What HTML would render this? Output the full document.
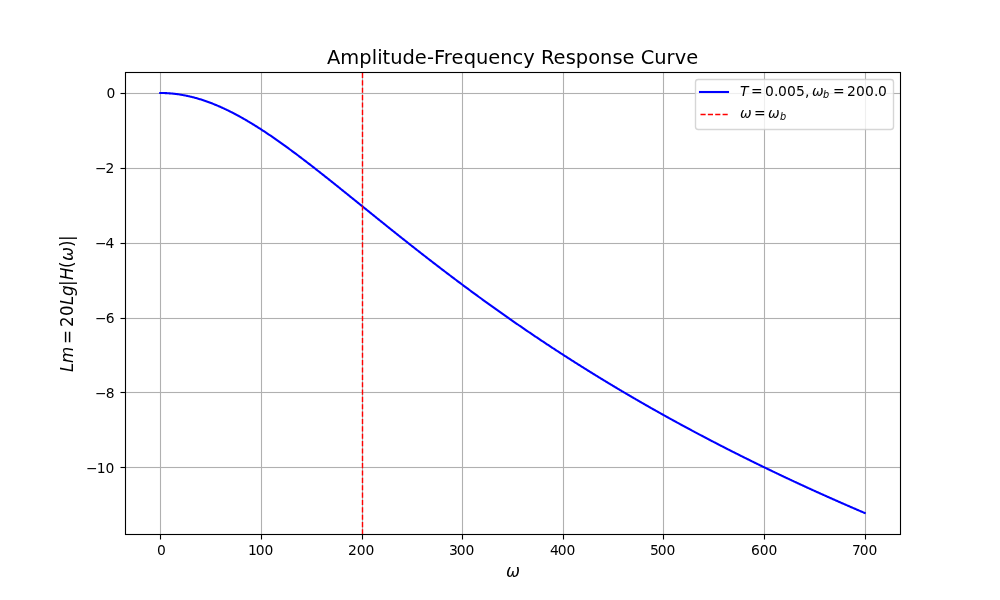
<!DOCTYPE html>
<html lang="en"><head><meta charset="utf-8"><title>Amplitude-Frequency Response Curve</title>
<style>html,body{margin:0;padding:0;background:#fff;overflow:hidden}svg{display:block}text{font-family:'DejaVu Sans', 'Liberation Sans', sans-serif;fill:#000;white-space:pre}.it{font-style:oblique}</style></head><body>
<svg width="1000" height="600" viewBox="0 0 1000 600">
<defs><clipPath id="ax"><rect x="125" y="72" width="775" height="462"/></clipPath></defs>
<rect x="0" y="0" width="1000" height="600" fill="#ffffff"/>
<g stroke="#b0b0b0" stroke-width="1.1111" fill="none">
<path d="M160.5 534.0V72.0"/>
<path d="M261.5 534.0V72.0"/>
<path d="M362.5 534.0V72.0"/>
<path d="M462.5 534.0V72.0"/>
<path d="M563.5 534.0V72.0"/>
<path d="M663.5 534.0V72.0"/>
<path d="M764.5 534.0V72.0"/>
<path d="M865.5 534.0V72.0"/>
</g>
<g fill="#b0b0b0">
<rect x="125.0" y="466.9444" width="775.0" height="1.1111"/>
<rect x="125.0" y="391.9444" width="775.0" height="1.1111"/>
<rect x="125.0" y="317.9444" width="775.0" height="1.1111"/>
<rect x="125.0" y="242.9444" width="775.0" height="1.1111"/>
<rect x="125.0" y="167.9444" width="775.0" height="1.1111"/>
<rect x="125.0" y="92.9444" width="775.0" height="1.1111"/>
</g>
<g stroke="#000" stroke-width="1.1111" fill="none">
<rect x="159.9444" y="534.5" width="1.1111" height="5.0" fill="#000" stroke="none"/>
<rect x="260.9444" y="534.5" width="1.1111" height="5.0" fill="#000" stroke="none"/>
<rect x="361.9444" y="534.5" width="1.1111" height="5.0" fill="#000" stroke="none"/>
<rect x="461.9444" y="534.5" width="1.1111" height="5.0" fill="#000" stroke="none"/>
<rect x="562.9444" y="534.5" width="1.1111" height="5.0" fill="#000" stroke="none"/>
<rect x="662.9444" y="534.5" width="1.1111" height="5.0" fill="#000" stroke="none"/>
<rect x="763.9444" y="534.5" width="1.1111" height="5.0" fill="#000" stroke="none"/>
<rect x="864.9444" y="534.5" width="1.1111" height="5.0" fill="#000" stroke="none"/>
</g>
<g fill="#000">
<rect x="120.5" y="466.9444" width="5.0" height="1.1111"/>
<rect x="120.5" y="391.9444" width="5.0" height="1.1111"/>
<rect x="120.5" y="317.9444" width="5.0" height="1.1111"/>
<rect x="120.5" y="242.9444" width="5.0" height="1.1111"/>
<rect x="120.5" y="167.9444" width="5.0" height="1.1111"/>
<rect x="120.5" y="92.9444" width="5.0" height="1.1111"/>
</g>
<g font-size="13.8889">
<text x="156.977" y="555.10">0</text>
<text x="247.940 255.815 264.440" y="555.10">100</text>
<text x="347.901 356.651 365.401" y="555.10">200</text>
<text x="448.925 456.675 465.425" y="555.10">300</text>
<text x="549.950 557.700 566.450" y="555.10">400</text>
<text x="649.974 657.724 666.474" y="555.10">500</text>
<text x="750.936 759.686 768.436" y="555.10">600</text>
<text x="851.898 859.648 868.398" y="555.10">700</text>
<text x="85.903 96.653 105.403" y="473.10">−10</text>
<text x="95.028 105.653" y="398.10">−8</text>
<text x="95.028 105.653" y="323.10">−6</text>
<text x="95.028 105.528" y="248.10">−4</text>
<text x="94.903 105.528" y="173.10">−2</text>
<text x="106.528" y="98.10">0</text>
</g>
<g transform="translate(506.00 577.00) scale(1 1.06)"><text><tspan class="it" font-size="16.6667" x="0" y="0.00">ω</tspan></text></g>
<g transform="translate(73.00 372.00) rotate(-90) scale(1 1.06)"><text><tspan class="it" font-size="16.6667" x="0 9" y="0.00">Lm</tspan><tspan font-size="16.6667" x="28 45 56" y="0.00">=20</tspan><tspan class="it" font-size="16.6667" x="67 76" y="0.00">Lg</tspan><tspan font-size="16.6667" x="86" y="0.00">|</tspan><tspan class="it" font-size="16.6667" x="92" y="0.00">H</tspan><tspan font-size="16.6667" x="104" y="0.00">(</tspan><tspan class="it" font-size="16.6667" x="111" y="0.00">ω</tspan><tspan font-size="16.6667" x="125 131" y="0.00">)|</tspan></text></g>
<polyline clip-path="url(#ax)" points="160.23,93.00 160.93,93.00 161.64,93.01 162.34,93.02 163.05,93.03 163.75,93.05 164.46,93.07 165.16,93.10 165.87,93.13 166.57,93.16 167.28,93.20 167.99,93.24 168.69,93.29 169.40,93.34 170.10,93.39 170.81,93.45 171.51,93.51 172.22,93.58 172.92,93.65 173.63,93.72 174.33,93.80 175.04,93.88 175.74,93.96 176.45,94.05 177.15,94.15 177.86,94.24 178.56,94.34 179.27,94.45 179.97,94.56 180.68,94.67 181.38,94.79 182.09,94.91 182.80,95.03 183.50,95.16 184.21,95.29 184.91,95.43 185.62,95.57 186.32,95.71 187.03,95.86 187.73,96.01 188.44,96.16 189.14,96.32 189.85,96.48 190.55,96.65 191.26,96.82 191.96,96.99 192.67,97.17 193.37,97.35 194.08,97.53 194.78,97.72 195.49,97.91 196.20,98.11 196.90,98.31 197.61,98.51 198.31,98.72 199.02,98.93 199.72,99.14 200.43,99.36 201.13,99.58 201.84,99.80 202.54,100.03 203.25,100.26 203.95,100.49 204.66,100.73 205.36,100.97 206.07,101.22 206.77,101.47 207.48,101.72 208.18,101.97 208.89,102.23 209.59,102.49 210.30,102.76 211.01,103.03 211.71,103.30 212.42,103.57 213.12,103.85 213.83,104.13 214.53,104.42 215.24,104.71 215.94,105.00 216.65,105.29 217.35,105.59 218.06,105.89 218.76,106.19 219.47,106.50 220.17,106.81 220.88,107.12 221.58,107.44 222.29,107.76 222.99,108.08 223.70,108.41 224.41,108.73 225.11,109.07 225.82,109.40 226.52,109.74 227.23,110.08 227.93,110.42 228.64,110.76 229.34,111.11 230.05,111.46 230.75,111.82 231.46,112.18 232.16,112.53 232.87,112.90 233.57,113.26 234.28,113.63 234.98,114.00 235.69,114.37 236.39,114.75 237.10,115.13 237.80,115.51 238.51,115.89 239.22,116.28 239.92,116.67 240.63,117.06 241.33,117.45 242.04,117.85 242.74,118.24 243.45,118.65 244.15,119.05 244.86,119.45 245.56,119.86 246.27,120.27 246.97,120.69 247.68,121.10 248.38,121.52 249.09,121.94 249.79,122.36 250.50,122.78 251.20,123.21 251.91,123.64 252.62,124.07 253.32,124.50 254.03,124.94 254.73,125.37 255.44,125.81 256.14,126.25 256.85,126.70 257.55,127.14 258.26,127.59 258.96,128.04 259.67,128.49 260.37,128.94 261.08,129.40 261.78,129.86 262.49,130.32 263.19,130.78 263.90,131.24 264.60,131.70 265.31,132.17 266.01,132.64 266.72,133.11 267.43,133.58 268.13,134.05 268.84,134.53 269.54,135.00 270.25,135.48 270.95,135.96 271.66,136.45 272.36,136.93 273.07,137.41 273.77,137.90 274.48,138.39 275.18,138.88 275.89,139.37 276.59,139.86 277.30,140.36 278.00,140.85 278.71,141.35 279.41,141.85 280.12,142.35 280.83,142.85 281.53,143.35 282.24,143.86 282.94,144.36 283.65,144.87 284.35,145.38 285.06,145.89 285.76,146.40 286.47,146.91 287.17,147.42 287.88,147.94 288.58,148.45 289.29,148.97 289.99,149.49 290.70,150.01 291.40,150.53 292.11,151.05 292.81,151.57 293.52,152.09 294.22,152.62 294.93,153.15 295.64,153.67 296.34,154.20 297.05,154.73 297.75,155.26 298.46,155.79 299.16,156.32 299.87,156.86 300.57,157.39 301.28,157.92 301.98,158.46 302.69,159.00 303.39,159.53 304.10,160.07 304.80,160.61 305.51,161.15 306.21,161.69 306.92,162.23 307.62,162.78 308.33,163.32 309.04,163.86 309.74,164.41 310.45,164.95 311.15,165.50 311.86,166.05 312.56,166.59 313.27,167.14 313.97,167.69 314.68,168.24 315.38,168.79 316.09,169.34 316.79,169.89 317.50,170.45 318.20,171.00 318.91,171.55 319.61,172.11 320.32,172.66 321.02,173.22 321.73,173.77 322.43,174.33 323.14,174.89 323.85,175.44 324.55,176.00 325.26,176.56 325.96,177.12 326.67,177.68 327.37,178.24 328.08,178.80 328.78,179.36 329.49,179.92 330.19,180.48 330.90,181.04 331.60,181.60 332.31,182.16 333.01,182.73 333.72,183.29 334.42,183.85 335.13,184.42 335.83,184.98 336.54,185.55 337.25,186.11 337.95,186.67 338.66,187.24 339.36,187.81 340.07,188.37 340.77,188.94 341.48,189.50 342.18,190.07 342.89,190.64 343.59,191.20 344.30,191.77 345.00,192.34 345.71,192.91 346.41,193.47 347.12,194.04 347.82,194.61 348.53,195.18 349.23,195.75 349.94,196.31 350.64,196.88 351.35,197.45 352.06,198.02 352.76,198.59 353.47,199.16 354.17,199.73 354.88,200.30 355.58,200.86 356.29,201.43 356.99,202.00 357.70,202.57 358.40,203.14 359.11,203.71 359.81,204.28 360.52,204.85 361.22,205.42 361.93,205.99 362.63,206.56 363.34,207.13 364.04,207.70 364.75,208.27 365.46,208.84 366.16,209.41 366.87,209.97 367.57,210.54 368.28,211.11 368.98,211.68 369.69,212.25 370.39,212.82 371.10,213.39 371.80,213.96 372.51,214.53 373.21,215.09 373.92,215.66 374.62,216.23 375.33,216.80 376.03,217.37 376.74,217.94 377.44,218.50 378.15,219.07 378.85,219.64 379.56,220.21 380.27,220.77 380.97,221.34 381.68,221.91 382.38,222.48 383.09,223.04 383.79,223.61 384.50,224.17 385.20,224.74 385.91,225.31 386.61,225.87 387.32,226.44 388.02,227.00 388.73,227.57 389.43,228.13 390.14,228.70 390.84,229.26 391.55,229.83 392.25,230.39 392.96,230.95 393.67,231.52 394.37,232.08 395.08,232.64 395.78,233.21 396.49,233.77 397.19,234.33 397.90,234.89 398.60,235.45 399.31,236.01 400.01,236.58 400.72,237.14 401.42,237.70 402.13,238.26 402.83,238.82 403.54,239.38 404.24,239.93 404.95,240.49 405.65,241.05 406.36,241.61 407.07,242.17 407.77,242.73 408.48,243.28 409.18,243.84 409.89,244.40 410.59,244.95 411.30,245.51 412.00,246.07 412.71,246.62 413.41,247.18 414.12,247.73 414.82,248.28 415.53,248.84 416.23,249.39 416.94,249.95 417.64,250.50 418.35,251.05 419.05,251.60 419.76,252.15 420.46,252.71 421.17,253.26 421.88,253.81 422.58,254.36 423.29,254.91 423.99,255.46 424.70,256.01 425.40,256.55 426.11,257.10 426.81,257.65 427.52,258.20 428.22,258.75 428.93,259.29 429.63,259.84 430.34,260.38 431.04,260.93 431.75,261.48 432.45,262.02 433.16,262.56 433.86,263.11 434.57,263.65 435.28,264.19 435.98,264.74 436.69,265.28 437.39,265.82 438.10,266.36 438.80,266.90 439.51,267.44 440.21,267.98 440.92,268.52 441.62,269.06 442.33,269.60 443.03,270.14 443.74,270.68 444.44,271.21 445.15,271.75 445.85,272.29 446.56,272.82 447.26,273.36 447.97,273.89 448.67,274.43 449.38,274.96 450.09,275.50 450.79,276.03 451.50,276.56 452.20,277.10 452.91,277.63 453.61,278.16 454.32,278.69 455.02,279.22 455.73,279.75 456.43,280.28 457.14,280.81 457.84,281.34 458.55,281.87 459.25,282.40 459.96,282.92 460.66,283.45 461.37,283.98 462.07,284.50 462.78,285.03 463.49,285.55 464.19,286.08 464.90,286.60 465.60,287.12 466.31,287.65 467.01,288.17 467.72,288.69 468.42,289.21 469.13,289.74 469.83,290.26 470.54,290.78 471.24,291.30 471.95,291.82 472.65,292.33 473.36,292.85 474.06,293.37 474.77,293.89 475.47,294.40 476.18,294.92 476.88,295.44 477.59,295.95 478.30,296.47 479.00,296.98 479.71,297.50 480.41,298.01 481.12,298.52 481.82,299.03 482.53,299.55 483.23,300.06 483.94,300.57 484.64,301.08 485.35,301.59 486.05,302.10 486.76,302.61 487.46,303.12 488.17,303.62 488.87,304.13 489.58,304.64 490.28,305.15 490.99,305.65 491.70,306.16 492.40,306.66 493.11,307.17 493.81,307.67 494.52,308.17 495.22,308.68 495.93,309.18 496.63,309.68 497.34,310.18 498.04,310.68 498.75,311.19 499.45,311.69 500.16,312.18 500.86,312.68 501.57,313.18 502.27,313.68 502.98,314.18 503.68,314.68 504.39,315.17 505.09,315.67 505.80,316.16 506.51,316.66 507.21,317.15 507.92,317.65 508.62,318.14 509.33,318.63 510.03,319.13 510.74,319.62 511.44,320.11 512.15,320.60 512.85,321.09 513.56,321.58 514.26,322.07 514.97,322.56 515.67,323.05 516.38,323.54 517.08,324.03 517.79,324.51 518.49,325.00 519.20,325.49 519.91,325.97 520.61,326.46 521.32,326.94 522.02,327.42 522.73,327.91 523.43,328.39 524.14,328.87 524.84,329.36 525.55,329.84 526.25,330.32 526.96,330.80 527.66,331.28 528.37,331.76 529.07,332.24 529.78,332.72 530.48,333.20 531.19,333.67 531.89,334.15 532.60,334.63 533.30,335.10 534.01,335.58 534.72,336.05 535.42,336.53 536.13,337.00 536.83,337.48 537.54,337.95 538.24,338.42 538.95,338.89 539.65,339.37 540.36,339.84 541.06,340.31 541.77,340.78 542.47,341.25 543.18,341.72 543.88,342.19 544.59,342.66 545.29,343.12 546.00,343.59 546.70,344.06 547.41,344.52 548.12,344.99 548.82,345.46 549.53,345.92 550.23,346.38 550.94,346.85 551.64,347.31 552.35,347.77 553.05,348.24 553.76,348.70 554.46,349.16 555.17,349.62 555.87,350.08 556.58,350.54 557.28,351.00 557.99,351.46 558.69,351.92 559.40,352.38 560.10,352.84 560.81,353.29 561.51,353.75 562.22,354.21 562.93,354.66 563.63,355.12 564.34,355.57 565.04,356.03 565.75,356.48 566.45,356.93 567.16,357.39 567.86,357.84 568.57,358.29 569.27,358.74 569.98,359.19 570.68,359.64 571.39,360.09 572.09,360.54 572.80,360.99 573.50,361.44 574.21,361.89 574.91,362.34 575.62,362.78 576.33,363.23 577.03,363.68 577.74,364.12 578.44,364.57 579.15,365.01 579.85,365.46 580.56,365.90 581.26,366.34 581.97,366.79 582.67,367.23 583.38,367.67 584.08,368.11 584.79,368.55 585.49,368.99 586.20,369.43 586.90,369.87 587.61,370.31 588.31,370.75 589.02,371.19 589.72,371.63 590.43,372.07 591.14,372.50 591.84,372.94 592.55,373.38 593.25,373.81 593.96,374.25 594.66,374.68 595.37,375.12 596.07,375.55 596.78,375.98 597.48,376.42 598.19,376.85 598.89,377.28 599.60,377.71 600.30,378.14 601.01,378.57 601.71,379.00 602.42,379.43 603.12,379.86 603.83,380.29 604.54,380.72 605.24,381.15 605.95,381.57 606.65,382.00 607.36,382.43 608.06,382.85 608.77,383.28 609.47,383.70 610.18,384.13 610.88,384.55 611.59,384.98 612.29,385.40 613.00,385.82 613.70,386.25 614.41,386.67 615.11,387.09 615.82,387.51 616.52,387.93 617.23,388.35 617.93,388.77 618.64,389.19 619.35,389.61 620.05,390.03 620.76,390.45 621.46,390.87 622.17,391.28 622.87,391.70 623.58,392.12 624.28,392.53 624.99,392.95 625.69,393.36 626.40,393.78 627.10,394.19 627.81,394.61 628.51,395.02 629.22,395.43 629.92,395.85 630.63,396.26 631.33,396.67 632.04,397.08 632.75,397.49 633.45,397.90 634.16,398.31 634.86,398.72 635.57,399.13 636.27,399.54 636.98,399.95 637.68,400.36 638.39,400.76 639.09,401.17 639.80,401.58 640.50,401.98 641.21,402.39 641.91,402.79 642.62,403.20 643.32,403.60 644.03,404.01 644.73,404.41 645.44,404.82 646.15,405.22 646.85,405.62 647.56,406.02 648.26,406.42 648.97,406.83 649.67,407.23 650.38,407.63 651.08,408.03 651.79,408.43 652.49,408.83 653.20,409.22 653.90,409.62 654.61,410.02 655.31,410.42 656.02,410.82 656.72,411.21 657.43,411.61 658.13,412.00 658.84,412.40 659.54,412.80 660.25,413.19 660.96,413.58 661.66,413.98 662.37,414.37 663.07,414.77 663.78,415.16 664.48,415.55 665.19,415.94 665.89,416.33 666.60,416.73 667.30,417.12 668.01,417.51 668.71,417.90 669.42,418.29 670.12,418.67 670.83,419.06 671.53,419.45 672.24,419.84 672.94,420.23 673.65,420.62 674.36,421.00 675.06,421.39 675.77,421.77 676.47,422.16 677.18,422.55 677.88,422.93 678.59,423.31 679.29,423.70 680.00,424.08 680.70,424.47 681.41,424.85 682.11,425.23 682.82,425.61 683.52,426.00 684.23,426.38 684.93,426.76 685.64,427.14 686.34,427.52 687.05,427.90 687.75,428.28 688.46,428.66 689.17,429.04 689.87,429.41 690.58,429.79 691.28,430.17 691.99,430.55 692.69,430.92 693.40,431.30 694.10,431.68 694.81,432.05 695.51,432.43 696.22,432.80 696.92,433.18 697.63,433.55 698.33,433.93 699.04,434.30 699.74,434.67 700.45,435.05 701.15,435.42 701.86,435.79 702.57,436.16 703.27,436.53 703.98,436.90 704.68,437.28 705.39,437.65 706.09,438.02 706.80,438.39 707.50,438.75 708.21,439.12 708.91,439.49 709.62,439.86 710.32,440.23 711.03,440.59 711.73,440.96 712.44,441.33 713.14,441.69 713.85,442.06 714.55,442.43 715.26,442.79 715.96,443.16 716.67,443.52 717.38,443.89 718.08,444.25 718.79,444.61 719.49,444.98 720.20,445.34 720.90,445.70 721.61,446.06 722.31,446.42 723.02,446.79 723.72,447.15 724.43,447.51 725.13,447.87 725.84,448.23 726.54,448.59 727.25,448.95 727.95,449.31 728.66,449.66 729.36,450.02 730.07,450.38 730.78,450.74 731.48,451.09 732.19,451.45 732.89,451.81 733.60,452.16 734.30,452.52 735.01,452.88 735.71,453.23 736.42,453.59 737.12,453.94 737.83,454.29 738.53,454.65 739.24,455.00 739.94,455.35 740.65,455.71 741.35,456.06 742.06,456.41 742.76,456.76 743.47,457.11 744.17,457.47 744.88,457.82 745.59,458.17 746.29,458.52 747.00,458.87 747.70,459.22 748.41,459.56 749.11,459.91 749.82,460.26 750.52,460.61 751.23,460.96 751.93,461.31 752.64,461.65 753.34,462.00 754.05,462.35 754.75,462.69 755.46,463.04 756.16,463.38 756.87,463.73 757.57,464.07 758.28,464.42 758.99,464.76 759.69,465.11 760.40,465.45 761.10,465.79 761.81,466.14 762.51,466.48 763.22,466.82 763.92,467.16 764.63,467.50 765.33,467.84 766.04,468.19 766.74,468.53 767.45,468.87 768.15,469.21 768.86,469.55 769.56,469.89 770.27,470.22 770.97,470.56 771.68,470.90 772.38,471.24 773.09,471.58 773.80,471.92 774.50,472.25 775.21,472.59 775.91,472.93 776.62,473.26 777.32,473.60 778.03,473.93 778.73,474.27 779.44,474.60 780.14,474.94 780.85,475.27 781.55,475.61 782.26,475.94 782.96,476.27 783.67,476.61 784.37,476.94 785.08,477.27 785.78,477.61 786.49,477.94 787.20,478.27 787.90,478.60 788.61,478.93 789.31,479.26 790.02,479.59 790.72,479.92 791.43,480.25 792.13,480.58 792.84,480.91 793.54,481.24 794.25,481.57 794.95,481.90 795.66,482.23 796.36,482.55 797.07,482.88 797.77,483.21 798.48,483.53 799.18,483.86 799.89,484.19 800.59,484.51 801.30,484.84 802.01,485.16 802.71,485.49 803.42,485.81 804.12,486.14 804.83,486.46 805.53,486.79 806.24,487.11 806.94,487.43 807.65,487.76 808.35,488.08 809.06,488.40 809.76,488.72 810.47,489.05 811.17,489.37 811.88,489.69 812.58,490.01 813.29,490.33 813.99,490.65 814.70,490.97 815.41,491.29 816.11,491.61 816.82,491.93 817.52,492.25 818.23,492.57 818.93,492.89 819.64,493.20 820.34,493.52 821.05,493.84 821.75,494.16 822.46,494.47 823.16,494.79 823.87,495.11 824.57,495.42 825.28,495.74 825.98,496.06 826.69,496.37 827.39,496.69 828.10,497.00 828.80,497.32 829.51,497.63 830.22,497.94 830.92,498.26 831.63,498.57 832.33,498.88 833.04,499.20 833.74,499.51 834.45,499.82 835.15,500.13 835.86,500.45 836.56,500.76 837.27,501.07 837.97,501.38 838.68,501.69 839.38,502.00 840.09,502.31 840.79,502.62 841.50,502.93 842.20,503.24 842.91,503.55 843.62,503.86 844.32,504.17 845.03,504.47 845.73,504.78 846.44,505.09 847.14,505.40 847.85,505.71 848.55,506.01 849.26,506.32 849.96,506.63 850.67,506.93 851.37,507.24 852.08,507.54 852.78,507.85 853.49,508.15 854.19,508.46 854.90,508.76 855.60,509.07 856.31,509.37 857.01,509.68 857.72,509.98 858.43,510.28 859.13,510.59 859.84,510.89 860.54,511.19 861.25,511.49 861.95,511.79 862.66,512.10 863.36,512.40 864.07,512.70 864.77,513.00" fill="none" stroke="#0000ff" stroke-width="2.0833" stroke-linecap="square" stroke-linejoin="round"/>
<path clip-path="url(#ax)" d="M362.5 534.5V72.5" fill="none" stroke="#ff0000" stroke-width="1.3889" stroke-dasharray="5.1389 2.2222"/>
<rect x="125.5" y="72.5" width="775.0" height="462.0" fill="none" stroke="#000" stroke-width="1.1111" stroke-linejoin="miter"/>
<g font-size="19.4444"><text x="326.875 340.250 359.125 371.625 377.125 382.375 390.125 402.500 414.625 426.875 433.875 443.750 451.375 463.625 475.875 488.125 500.125 512.375 523.125 534.625 541.000 553.500 565.625 575.625 588.125 599.875 612.375 622.375 634.375 640.625 654.250 666.500 674.625 686.125" y="64.10">Amplitude-Frequency Response Curve</text></g>
<rect x="695.500" y="79.500" width="198.000" height="50.000" rx="2.778" fill="#ffffff" fill-opacity="0.8" stroke="#cccccc" stroke-opacity="0.8" stroke-width="1.3889"/>
<path d="M700.000 92.000H728.000" stroke="#0000ff" stroke-width="2.0833" stroke-linecap="square" fill="none"/>
<g transform="translate(740.00 96.00)"><text><tspan class="it" font-size="13.8889" x="0" y="0.00">T</tspan><tspan font-size="13.8889" x="11 25 34 38 47 56 65 69" y="0.00">=0.005, </tspan><tspan class="it" font-size="13.8889" x="72" y="0.00">ω</tspan><tspan class="it" font-size="9.7222" x="83" y="2.00">b</tspan><tspan font-size="13.8889" x="93 107 116 125 134 138" y="0.00">=200.0</tspan></text></g>
<path d="M700.500 114.500H728.500" stroke="#ff0000" stroke-width="1.3889" stroke-dasharray="5.1389 2.2222" fill="none"/>
<g transform="translate(740.00 118.00)"><text><tspan class="it" font-size="13.8889" x="0" y="0.00">ω</tspan><tspan font-size="13.8889" x="14" y="0.00">=</tspan><tspan class="it" font-size="13.8889" x="28" y="0.00">ω</tspan><tspan class="it" font-size="9.7222" x="40" y="2.00">b</tspan></text></g>
</svg></body></html>
